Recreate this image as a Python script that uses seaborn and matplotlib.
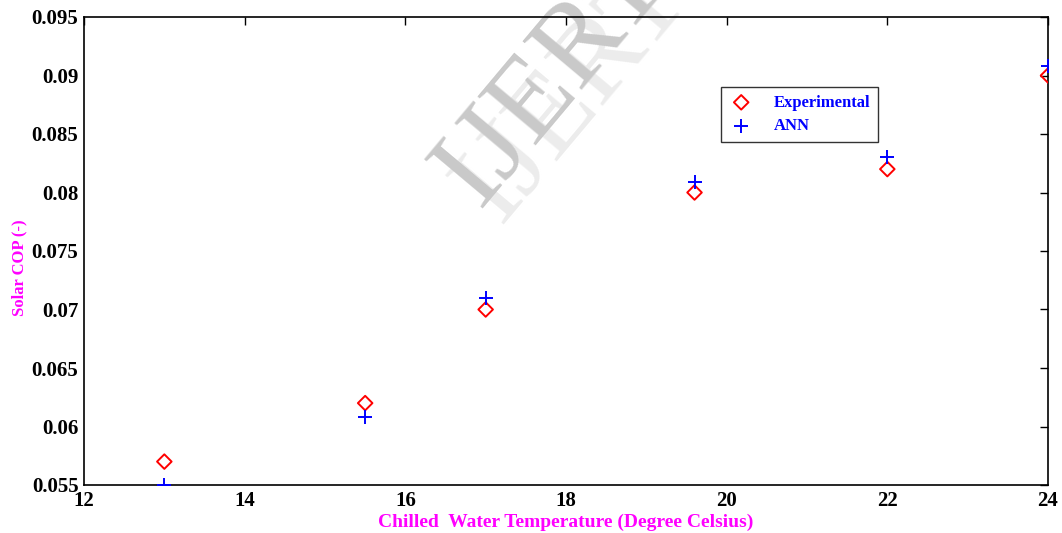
import matplotlib
matplotlib.use("Agg")
import matplotlib.pyplot as plt
import seaborn as sns
import pandas as pd

temperature = [13, 15.5, 17, 19.6, 22, 24]
experimental = [0.057, 0.062, 0.070, 0.080, 0.082, 0.090]
ann = [0.055, 0.0608, 0.071, 0.0809, 0.083, 0.0908]
x_ticks = [12, 14, 16, 18, 20, 22, 24]
y_ticks = [0.055, 0.06, 0.065, 0.07, 0.075, 0.08, 0.085, 0.09, 0.095]
y_tick_labels = ["0.055", "0.06", "0.065", "0.07", "0.075", "0.08", "0.085", "0.09", "0.095"]

sns.set_style("white")
plt.rcParams['font.family'] = ['Liberation Serif', 'DejaVu Serif']
plt.rcParams['font.weight'] = 'bold'

df_exp = pd.DataFrame({"T": temperature, "COP": experimental})
df_ann = pd.DataFrame({"T": temperature, "COP": ann})

fig = plt.figure(figsize=(10.62, 5.33), dpi=100)
ax = fig.add_axes([84/1062, 1 - 485/533, (1048-84)/1062, (485-17)/533])

# watermark
ax.text(0.508, 0.838, "IJERT", transform=ax.transAxes, fontsize=84, color="#ececec",
        rotation=50, ha="center", va="center", zorder=0, fontweight="normal")
ax.text(0.487, 0.874, "IJERT", transform=ax.transAxes, fontsize=84, color="#c9c9c9",
        rotation=50, ha="center", va="center", zorder=0, fontweight="normal")

sns.scatterplot(data=df_exp, x="T", y="COP", ax=ax, marker="D", s=55,
                facecolor="none", edgecolor="red", linewidth=1.4, label="Experimental", zorder=3)
sns.scatterplot(data=df_ann, x="T", y="COP", ax=ax, marker="+", s=90,
                color="blue", linewidth=1.4, label="ANN", zorder=4)

ax.set_xlim(12, 24)
ax.set_ylim(0.055, 0.095)
ax.set_xticks(x_ticks)
ax.set_xticklabels([str(t) for t in x_ticks])
ax.set_yticks(y_ticks)
ax.set_yticklabels(y_tick_labels)
ax.tick_params(direction="in", length=6, width=1, top=True, right=True, labelsize=15, pad=4, colors="black")
for lab in ax.get_xticklabels() + ax.get_yticklabels():
    lab.set_fontweight("bold")
for sp in ax.spines.values():
    sp.set_visible(True)
    sp.set_color("black")
    sp.set_linewidth(1.2)

ax.set_xlabel("Chilled  Water Temperature (Degree Celsius)", color="magenta", fontsize=14,
              fontweight="bold", labelpad=2)
ax.set_ylabel("Solar COP (-)", color="magenta", fontsize=12, fontweight="bold")
ax.yaxis.set_label_coords(-0.059, 0.464)

leg = ax.legend(loc="upper left", bbox_to_anchor=(0.661, 0.850), borderaxespad=0, frameon=True,
                fancybox=False, edgecolor="black", fontsize=12, handletextpad=1.2, borderpad=0.45,
                labelspacing=0.45, handlelength=1.5)
leg.get_frame().set_linewidth(1.0)
for t in leg.get_texts():
    t.set_color("blue")
    t.set_fontweight("bold")

fig.savefig("out.png", dpi=100)
